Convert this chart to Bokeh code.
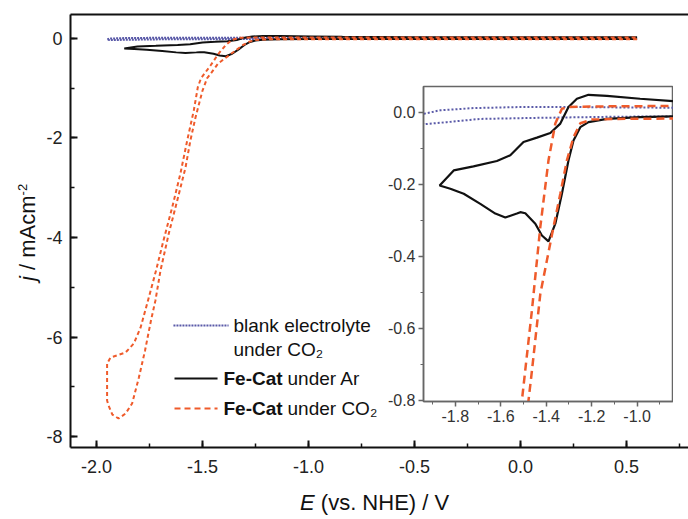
import numpy as np
from bokeh.plotting import figure
from bokeh.models import (Range1d, SingleIntervalTicker, LinearAxis, FixedTicker,
                          Label, Arrow, GridBox, NumeralTickFormatter, Div)
from bokeh.embed import file_html
from bokeh.resources import INLINE

# ---------------- data (E in V vs NHE, j in mA cm^-2) ----------------
blank_E = [0.55, 0.0, -0.5, -0.84, -1.1, -1.28, -1.514, -1.72, -1.866, -1.94, -1.95,
           -1.94, -1.837, -1.69, -1.426, -1.1, -0.84, -0.5, 0.0, 0.55]
blank_j = [0.010, 0.012, 0.013, 0.013, 0.014, 0.015, 0.015, 0.012, 0.006, -0.004, -0.020,
           -0.033, -0.027, -0.018, -0.015, -0.012, -0.011, -0.010, -0.010, -0.010]

ar_E = [0.55, 0.2, -0.2, -0.5, -0.84, -0.987, -1.133, -1.214, -1.25, -1.28, -1.302, -1.331,
        -1.36, -1.39, -1.419, -1.448, -1.492, -1.514, -1.529, -1.58, -1.624, -1.69, -1.763,
        -1.822, -1.869, -1.807, -1.72, -1.617, -1.558, -1.5, -1.441, -1.382, -1.338, -1.302,
        -1.265, -1.214, -1.133, -0.987, -0.84, -0.5, 0.0, 0.3, 0.55]
ar_j = [-0.010, -0.010, -0.010, -0.010, -0.011, -0.013, -0.018, -0.027, -0.041, -0.078, -0.133,
        -0.226, -0.309, -0.358, -0.342, -0.309, -0.280, -0.277, -0.281, -0.292, -0.281, -0.254,
        -0.226, -0.212, -0.203, -0.161, -0.150, -0.135, -0.119, -0.082, -0.070, -0.057, -0.031,
        0.015, 0.038, 0.049, 0.046, 0.038, 0.031, 0.025, 0.022, 0.022, 0.025]

co2_E = [0.55, 0.0, -0.5, -0.84, -1.1, -1.2, -1.25, -1.28, -1.309, -1.338, -1.368, -1.397,
         -1.426, -1.45, -1.466, -1.478, -1.50, -1.533, -1.557, -1.580, -1.619, -1.659, -1.698,
         -1.722, -1.743, -1.771, -1.800, -1.832, -1.863, -1.896, -1.925, -1.943, -1.950,
         -1.950, -1.934, -1.863, -1.824, -1.792, -1.757, -1.719, -1.684, -1.643, -1.604,
         -1.572, -1.541, -1.522, -1.507, -1.463, -1.426, -1.39, -1.36, -1.331, -1.30, -1.25,
         -1.1, -0.84, -0.5, 0.0, 0.55]
co2_j = [-0.017, -0.017, -0.017, -0.017, -0.018, -0.020, -0.030, -0.069, -0.133, -0.226,
         -0.318, -0.411, -0.504, -0.643, -0.735, -0.800, -1.05, -1.588, -2.050, -2.593,
         -3.256, -3.920, -4.663, -5.266, -5.668, -6.271, -6.814, -7.337, -7.538, -7.638,
         -7.558, -7.377, -7.276, -6.533, -6.412, -6.312, -6.131, -5.809, -5.266, -4.663,
         -4.060, -3.397, -2.714, -2.050, -1.447, -0.98, -0.80, -0.55, -0.318, -0.133,
         -0.031, 0.010, 0.015, 0.016, 0.017, 0.018, 0.018, 0.018, 0.020]

legend_labels = ["blank electrolyte", "under CO\u2082", "Fe-Cat", "under Ar", "under CO\u2082"]
x_title_html = "<i>E</i>&nbsp;(vs. NHE) / V"
y_title_html = "<i>j</i> / mAcm<sup style='font-size:13px'>-2</sup>"

FONT = "Liberation Sans"
ORANGE = "#ef5b2b"
BLUE = "#5a5aa8"
BLACK = "#111111"

# shared borders (grid aligns the borders of plots sharing a cell)
BL, BR, BT, BB = 70, 0, 14, 70

# ---------------- main plot ----------------
main = figure(width=688, height=517, x_range=Range1d(-2.1226, 0.7925),
              y_range=Range1d(-8.22, 0.48), output_backend="svg", toolbar_location=None,
              min_border_left=BL, min_border_right=BR, min_border_top=BT, min_border_bottom=BB)
main.outline_line_color = None
main.grid.visible = False
main.background_fill_color = "white"

xa = main.xaxis[0]
xa.ticker = SingleIntervalTicker(interval=0.5, num_minor_ticks=2)
xa.formatter = NumeralTickFormatter(format="0.0")
ya = main.yaxis[0]
ya.ticker = SingleIntervalTicker(interval=2, num_minor_ticks=2)
ya.formatter = NumeralTickFormatter(format="0")
for ax in (xa, ya):
    ax.axis_line_width = 2
    ax.axis_line_color = BLACK
    ax.major_tick_in = 7
    ax.major_tick_out = 0
    ax.minor_tick_in = 4
    ax.minor_tick_out = 0
    ax.major_tick_line_width = 2
    ax.minor_tick_line_width = 1.5
    ax.major_tick_line_color = BLACK
    ax.minor_tick_line_color = BLACK
    ax.major_label_text_font = FONT
    ax.major_label_text_font_size = "18px"
    ax.major_label_text_color = "#222222"
xa.major_label_standoff = 12
ya.major_label_standoff = 8

top = LinearAxis(ticker=FixedTicker(ticks=[]), axis_line_width=2, axis_line_color=BLACK,
                 major_tick_in=0, major_tick_out=0, minor_tick_in=0, minor_tick_out=0)
main.add_layout(top, "above")

main.line(blank_E, blank_j, line_color=BLUE, line_width=2, line_dash="2 1")
main.line(ar_E, ar_j, line_color=BLACK, line_width=2)
main.line(co2_E, co2_j, line_color=ORANGE, line_width=2, line_dash="4 3")

# legend (drawn by hand so that "Fe-Cat" can be bold)
lab_kw = dict(text_font=FONT, text_font_size="19px", text_color="#111111",
              text_baseline="middle", text_align="left")
main.add_layout(Arrow(end=None, x_start=-1.637, y_start=-5.77, x_end=-1.377, y_end=-5.77,
                      line_color=BLUE, line_width=2, line_dash="2 1"))
main.add_layout(Label(x=-1.354, y=-5.77, text=legend_labels[0], **lab_kw))
main.add_layout(Label(x=-1.354, y=-6.25, text=legend_labels[1], **lab_kw))
main.add_layout(Arrow(end=None, x_start=-1.632, y_start=-6.834, x_end=-1.429, y_end=-6.834,
                      line_color=BLACK, line_width=2))
main.add_layout(Label(x=-1.401, y=-6.834, text=legend_labels[2], text_font_style="bold", **lab_kw))
main.add_layout(Label(x=-1.099, y=-6.834, text=legend_labels[3], **lab_kw))
main.add_layout(Arrow(end=None, x_start=-1.632, y_start=-7.437, x_end=-1.429, y_end=-7.437,
                      line_color=ORANGE, line_width=2, line_dash="6 4"))
main.add_layout(Label(x=-1.401, y=-7.437, text=legend_labels[2], text_font_style="bold", **lab_kw))
main.add_layout(Label(x=-1.099, y=-7.437, text=legend_labels[4], **lab_kw))

# ---------------- inset ----------------
inset = figure(width=BL + 250 + BR, height=BT + 315 + BB, x_range=Range1d(-1.94, -0.84),
               y_range=Range1d(-0.803, 0.072), output_backend="svg", toolbar_location=None,
               min_border_left=BL, min_border_right=BR, min_border_top=BT, min_border_bottom=BB,
               margin=(86 - BT, 0, 0, 423 - BL))
inset.grid.visible = False
inset.background_fill_color = "white"
inset.border_fill_color = None
inset.outline_line_color = "#666666"
inset.outline_line_width = 1.5
ixa = inset.xaxis[0]
iya = inset.yaxis[0]
ixa.ticker = SingleIntervalTicker(interval=0.2, num_minor_ticks=2)
iya.ticker = SingleIntervalTicker(interval=0.2, num_minor_ticks=2)
for ax in (ixa, iya):
    ax.formatter = NumeralTickFormatter(format="0.0")
    ax.axis_line_color = "#666666"
    ax.axis_line_width = 1.5
    ax.major_tick_in = 0
    ax.major_tick_out = 5
    ax.minor_tick_in = 0
    ax.minor_tick_out = 3
    ax.major_tick_line_color = "#666666"
    ax.minor_tick_line_color = "#666666"
    ax.major_tick_line_width = 1.5
    ax.major_label_text_font = FONT
    ax.major_label_text_font_size = "16px"
    ax.major_label_text_color = "#333333"
    ax.major_label_standoff = 3

inset.line(blank_E, blank_j, line_color=BLUE, line_width=2, line_dash="2 2")
inset.line(ar_E, ar_j, line_color=BLACK, line_width=2.2)
inset.line(co2_E, co2_j, line_color=ORANGE, line_width=2.5, line_dash="8 5")

# ---------------- axis titles (mixed italic text) ----------------
title_style = {"font-family": FONT, "font-size": "22px", "color": "#111111",
               "line-height": "26px", "white-space": "nowrap"}
x_title = Div(text=x_title_html, width=220, height=26, margin=(490, 0, 0, 300),
              styles=dict(title_style))
y_style = dict(title_style)
y_style.update({"transform": "rotate(-90deg)", "transform-origin": "0 0"})
y_title = Div(text=y_title_html, width=140, height=26, margin=(281, 0, 0, 10),
              styles=y_style)

grid = GridBox(children=[(main, 0, 0), (inset, 0, 0), (x_title, 0, 0), (y_title, 0, 0)])

open("out.html", "w").write(file_html(grid, INLINE))
